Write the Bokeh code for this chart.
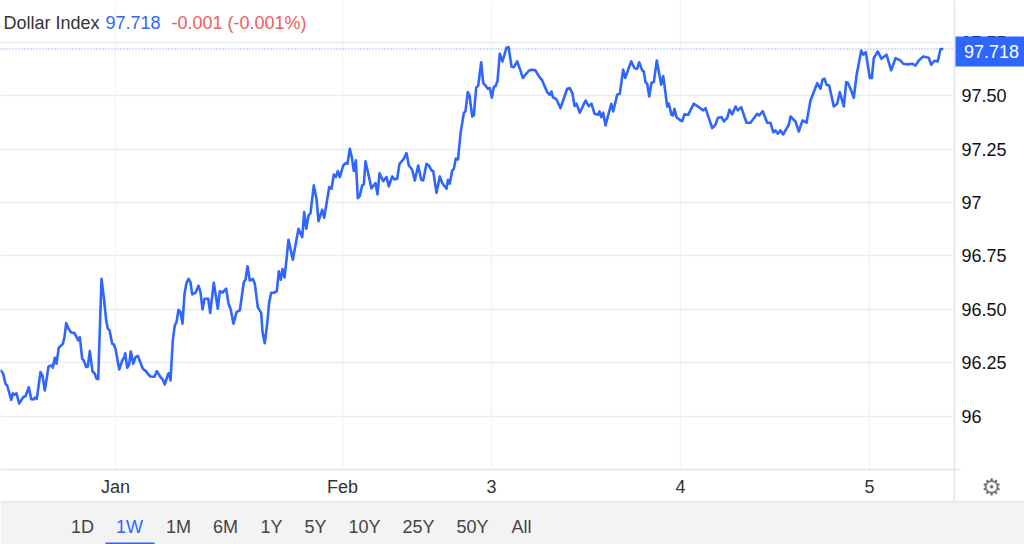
from bokeh.plotting import figure
from bokeh.models import Range1d, FixedTicker, Label, BoxAnnotation
from bokeh.embed import file_html
from bokeh.resources import INLINE

# time position along the (non-linear) date axis, and Dollar Index readings
t = [0,2.7,5,6.7,10.7,12.3,14,16,18.7,22.7,25,28.3,30.7,33.3,34.3,36.3,40,42,44.3,48,51.7,52.3,54.3,56,58.3,62.3,64,65.7,68,70.7,74,77.7,79.3,81.7,83.3,85.7,87.3,89.3,92,94.3,96,97.7,
     101,103.3,105.7,107.3,109,111.7,113.3,115,118.7,121.7,124,124.7,126.7,128.7,130.3,132.7,135,137.3,142.3,145.7,147.3,150,154,156.3,160,162.3,164.3,167.7,168.7,170,172.3,174.3,176,178,180,182,184,186,188,190,191.7,195,198,200,202,204,207.7,209.7,213.3,217.3,219.3,221.7,225.7,228,230,233,236,239.3,243.3,245,247,249.3,252.3,254.3,257.3,260.7,262,264.3,266.7,268.7,270.7,273.3,276.3,278.3,280.3,282,284,285.5,
     288,292.3,298,301.7,303.7,305.7,308,310,313.3,316,318,321.7,323.7,328.7,331,333.3,335.3,337.3,339.3,342.7,345,347,349.3,351.3,353.3,355.3,357.3,359.3,361.7,363.3,365,371,375,377,379,382.7,386,388.3,391.7,394,396.7,399,402.7,406,408.3,411.7,414.3,417.7,420.7,422.7,426,428.3,431,432.7,436,439.3,441.7,446,447.5,449.3,451.7,453.3,455.3,457.5,
     460,463.3,465,467.3,469,471.7,473.3,475.7,477.7,480.7,482.7,485,487.3,489.3,491.3,493.3,495,497,499.3,502,506,508,511,513.3,516.7,519.3,522.3,528.3,531,535,538.3,541.7,546.7,549.3,551,552.3,556,560,566.7,569.3,572,574,576,579.3,585,588.3,591,594,597.3,599,600.7,602.7,605,610.7,612.7,616.7,619.3,622.7,624.7,630.7,634,636.7,638.7,641.7,643.3,645,646.7,648.7,651,653.3,656.3,660.7,662.7,664,666.7,668.3,671,672.3,674,676,680,681.7,684,687.7,693.3,698.3,702.7,705,711.7,715,717.3,721,723.3,726.7,729,731.7,735,737.3,740.7,746,750,756.7,758.7,762.3,766.7,770,772.7,774.7,777.3,780,782.7,788.3,790,795,798.3,802,806,810,816.7,820,822,824,826,828.7,833.3,836.7,839.3,843.3,845.7,847.3,850.7,853.3,856,860.7,862.7,865.3,869.3,871.3,873.3,877.3,881,886,890.7,895,900,902.7,906.7,911.7,915,918.3,922.7,928.3,930.7,934,937.3,940,942.7]
dxy = [96.217,96.199,96.152,96.144,96.077,96.108,96.101,96.108,96.059,96.090,96.094,96.136,96.080,96.079,96.087,96.082,96.207,96.191,96.121,96.233,96.239,96.227,96.274,96.246,96.321,96.339,96.370,96.436,96.410,96.392,96.389,96.355,96.370,96.269,96.261,96.230,96.233,96.305,96.210,96.199,96.176,96.174,
       96.643,96.557,96.448,96.410,96.402,96.339,96.336,96.316,96.219,96.261,96.277,96.295,96.227,96.243,96.303,96.246,96.277,96.283,96.222,96.210,96.199,96.186,96.185,96.211,96.183,96.171,96.149,96.199,96.202,96.168,96.355,96.425,96.440,96.498,96.487,96.433,96.573,96.623,96.643,96.627,96.570,96.578,96.611,96.581,96.500,96.550,96.550,96.483,96.625,96.503,96.585,96.578,96.597,96.526,96.503,96.433,96.487,96.495,96.627,96.639,96.702,96.635,96.643,96.620,96.511,96.484,96.394,96.342,96.433,96.534,96.578,96.578,96.585,96.678,96.639,96.689,96.649,96.710,
       96.826,96.732,96.877,96.838,96.955,96.877,96.939,96.950,97.080,97.018,96.913,96.966,96.929,97.072,97.064,97.131,97.119,97.147,97.119,97.173,97.184,97.181,97.251,97.212,97.147,97.197,97.020,97.030,97.080,97.084,97.193,97.066,97.091,97.038,97.137,97.100,97.119,97.075,97.122,97.108,97.111,97.181,97.200,97.231,97.173,97.153,97.103,97.173,97.106,97.103,97.181,97.173,97.150,97.147,97.045,97.122,97.091,97.064,97.106,97.088,97.150,97.156,97.206,97.201,
       97.322,97.418,97.427,97.516,97.501,97.402,97.407,97.537,97.547,97.656,97.558,97.547,97.532,97.535,97.490,97.540,97.544,97.568,97.696,97.660,97.724,97.727,97.636,97.633,97.660,97.626,97.583,97.616,97.621,97.618,97.591,97.571,97.516,97.504,97.519,97.493,97.482,97.441,97.532,97.535,97.509,97.451,97.462,97.420,97.477,97.451,97.462,97.415,97.410,97.426,97.399,97.420,97.360,97.462,97.426,97.504,97.509,97.622,97.582,97.660,97.628,97.626,97.656,97.618,97.613,97.563,97.555,97.496,97.560,97.563,97.664,97.551,97.591,97.547,97.449,97.462,97.410,97.407,97.438,97.399,97.384,97.380,97.412,97.410,97.462,97.446,97.431,97.441,97.348,97.364,97.396,97.399,97.379,97.395,97.434,97.412,97.449,97.431,97.446,97.373,97.373,97.415,97.407,97.427,97.373,97.373,97.329,97.337,97.322,97.337,97.318,97.364,97.402,97.379,97.332,97.384,97.373,97.477,97.558,97.532,97.574,97.579,97.551,97.547,97.449,97.462,97.516,97.449,97.563,97.560,97.524,97.490,97.594,97.711,97.691,97.703,97.582,97.582,97.675,97.706,97.672,97.691,97.618,97.675,97.664,97.649,97.646,97.649,97.640,97.664,97.683,97.677,97.644,97.663,97.660,97.718,97.718]

x_ticks = [115, 342, 491, 680, 869]
x_labels = ["Jan", "Feb", "3", "4", "5"]
y_ticks = [96, 96.25, 96.5, 96.75, 97, 97.25, 97.5, 97.75]
y_labels = ["96", "96.25", "96.50", "96.75", "97", "97.25", "97.50", "97.75"]
name = "Dollar Index"
last = "97.718"
change = "-0.001 (-0.001%)"
ranges = ["1D", "1W", "1M", "6M", "1Y", "5Y", "10Y", "25Y", "50Y", "All"]
range_x = [82, 129, 178, 225, 271, 315, 364, 418, 472, 521]

BLUE = "#2f66ff"
FONT = "Liberation Sans"
X_END = 954
Y_BASE = 95.7512
Y_TOP = 97.9447

p = figure(width=1024, height=544, output_backend="svg", toolbar_location=None,
           x_range=Range1d(0, 1024), y_range=Range1d(95.4004, Y_TOP),
           y_axis_location="right", min_border=0,
           background_fill_color="white", border_fill_color="white")
p.outline_line_color = None

p.xaxis.ticker = FixedTicker(ticks=x_ticks)
p.xaxis.major_label_overrides = dict(zip(x_ticks, x_labels))
p.xaxis.fixed_location = Y_BASE
p.xaxis.bounds = (0, X_END)
p.yaxis.ticker = FixedTicker(ticks=y_ticks)
p.yaxis.major_label_overrides = dict(zip(y_ticks, y_labels))
p.yaxis.fixed_location = X_END
p.yaxis.bounds = (Y_BASE, Y_TOP)
for ax, color in ((p.xaxis[0], "#333333"), (p.yaxis[0], "#111111")):
    ax.axis_line_color = "#e3e3e3"
    ax.axis_line_width = 1.5
    ax.major_tick_line_color = None
    ax.major_tick_out = 0
    ax.major_tick_in = 0
    ax.minor_tick_line_color = None
    ax.minor_tick_out = 0
    ax.major_label_text_font = FONT
    ax.major_label_text_font_size = "18px"
    ax.major_label_text_color = color
p.xaxis[0].major_label_standoff = 8
p.yaxis[0].major_label_standoff = 7
p.xgrid.ticker = FixedTicker(ticks=x_ticks)
p.xgrid.grid_line_color = "#f0f5f5"
p.xgrid.grid_line_width = 1.5
p.xgrid.level = "image"
p.ygrid.ticker = FixedTicker(ticks=y_ticks)
p.ygrid.grid_line_color = "#ececec"
p.ygrid.grid_line_width = 1.5
p.ygrid.level = "image"

p.line(t, dxy, line_color=BLUE, line_width=2.6, line_join="round")
p.line([0, X_END], [dxy[-1], dxy[-1]], line_color=BLUE, line_width=1, line_dash="1 2", line_alpha=0.8)


def box(left, right, top, bottom, color, level="annotation"):
    p.add_layout(BoxAnnotation(left=left, right=right, top=top, bottom=bottom,
                               left_units="canvas", right_units="canvas",
                               top_units="canvas", bottom_units="canvas",
                               fill_color=color, fill_alpha=1, line_color=None,
                               level=level, editable=False))


def text(x, y, s, color="#333333", size="18px", align="left", font=FONT):
    p.add_layout(Label(x=x, y=y, x_units="canvas", y_units="canvas", text=s,
                       text_color=color, text_font=font, text_font_size=size,
                       text_align=align, text_baseline="middle", level="annotation"))


box(953, 1024, 0, 501, "white", level="underlay")
box(0, 1024, 469, 501, "white", level="underlay")
box(0, 1024, 501, 544, "#f3f3f3")
box(0, 1024, 500.5, 502, "#e6e6e6")
box(953, 954.5, 469, 501, "#e6e6e6")
box(954, 960, 468.5, 470, "#e6e6e6")
box(955, 1024, 36, 66, BLUE)
box(105, 154, 542, 544, BLUE)

text(991, 51, last, color="white", align="center")
text(3, 22, name)
text(105, 22, last, color=BLUE)
text(171, 22, change, color="#f25c5c")
for s, x in zip(ranges, range_x):
    text(x, 526.5, s, color=BLUE if s == "1W" else "#444444", align="center")
text(991, 486, "\u2699", color="#777777", size="23px", align="center", font="DejaVu Sans")

open("out.html", "w").write(file_html(p, INLINE))
